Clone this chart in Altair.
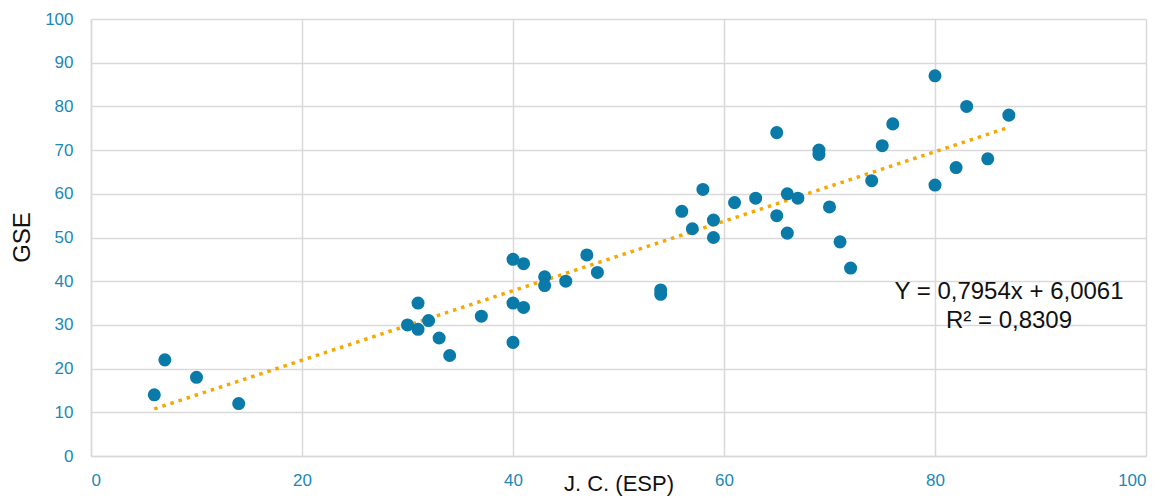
import altair as alt
import pandas as pd

# J. C. (ESP) scores and matching GSE scores
jc = [6, 7, 10, 14,
      30, 31, 31, 32, 33, 34, 37, 40, 40, 40, 41, 41, 43, 43, 45, 47, 48,
      54, 54, 56, 57, 58, 59, 59, 61, 63, 65, 65, 66, 66, 67,
      69, 69, 70, 71, 72, 74, 75, 76, 80, 80, 82, 83, 85, 87]
gse = [14, 22, 18, 12,
       30, 35, 29, 31, 27, 23, 32, 45, 35, 26, 44, 34, 41, 39, 40, 46, 42,
       38, 37, 56, 52, 61, 54, 50, 58, 59, 55, 74, 60, 51, 59,
       70, 69, 57, 49, 43, 63, 71, 76, 87, 62, 66, 80, 68, 78]

# Linear fit reported for the data
slope = 0.7954
intercept = 6.0061
r2 = 0.8309

x_ticks = [0, 20, 40, 60, 80, 100]
y_ticks = [0, 10, 20, 30, 40, 50, 60, 70, 80, 90, 100]

FONT = "Liberation Sans"
POINT = "#0A7AA8"
LABEL = "#1B88B7"
TREND = "#F6A800"
GRID = "#D9D9D9"


def fmt(v):
    return f"{v:.4f}".replace(".", ",")


eq_line = f"Y = {fmt(slope)}x + {fmt(intercept)}"
r2_line = f"R² = {fmt(r2)}"

points = pd.DataFrame({"jc": jc, "gse": gse})
fit_x = [min(jc), max(jc)]
fit = pd.DataFrame({"jc": fit_x, "gse": [slope * v + intercept for v in fit_x]})

x_scale = alt.Scale(domain=[0, 100], nice=False)
y_scale = alt.Scale(domain=[0, 100], nice=False)

x_axis = alt.Axis(
    values=x_ticks, title="J. C. (ESP)", grid=True, ticks=False,
    labelPadding=16, labelFontSize=17, labelColor=LABEL, labelFont=FONT,
    titleFontSize=22, titleFontWeight="normal", titleColor="#111111", titleFont=FONT,
    titleY=34, titleBaseline="alphabetic",
)
y_axis = alt.Axis(
    values=y_ticks, title="GSE", grid=True, ticks=False,
    labelPadding=18, labelFontSize=17, labelColor=LABEL, labelFont=FONT,
    titleFontSize=24, titleFontWeight="normal", titleColor="#111111", titleFont=FONT,
    titleX=-69, titleY=218, titleAngle=-90, titleAlign="center", titleBaseline="middle",
)

scatter = alt.Chart(points).mark_circle(size=170, opacity=1, color=POINT).encode(
    x=alt.X("jc:Q", scale=x_scale, axis=x_axis),
    y=alt.Y("gse:Q", scale=y_scale, axis=y_axis),
)

trend = alt.Chart(fit).mark_line(
    color=TREND, strokeWidth=3.5, strokeDash=[3.5, 5]
).encode(
    x=alt.X("jc:Q", scale=x_scale),
    y=alt.Y("gse:Q", scale=y_scale),
)

eq_text = alt.Chart(pd.DataFrame({"t": [eq_line]})).mark_text(
    font=FONT, fontSize=24, color="#111111", align="center", baseline="alphabetic"
).encode(x=alt.value(918), y=alt.value(280), text="t:N")

r2_text = alt.Chart(pd.DataFrame({"t": [r2_line]})).mark_text(
    font=FONT, fontSize=24, color="#111111", align="center", baseline="alphabetic"
).encode(x=alt.value(918), y=alt.value(309), text="t:N")

chart = alt.layer(trend, scatter, eq_text, r2_text).properties(
    width=1055, height=437,
    autosize=alt.AutoSizeParams(type="none"),
    padding={"left": 91, "top": 19, "right": 26, "bottom": 42},
    background="white",
).configure_view(stroke=None).configure_axis(
    gridColor=GRID, gridWidth=1.5, domainColor=GRID, domainWidth=1.5,
)

chart.save("out.html", embed_options={"renderer": "svg", "actions": False})
